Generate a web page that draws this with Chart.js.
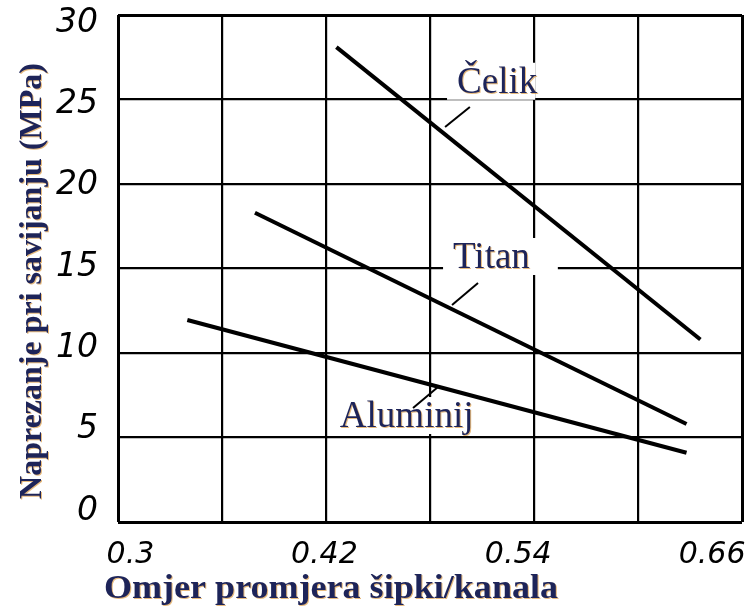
<!DOCTYPE html>
<html>
<head>
<meta charset="utf-8">
<script src="https://cdn.jsdelivr.net/npm/chart.js@4"></script>
<style>
    html, body { margin: 0; padding: 0; background: #fff; }
    #wrap { width: 754px; height: 607px; }
</style>
</head>
<body>
<div id="wrap"><canvas id="chart"></canvas></div>
<script>
// Podaci

const xGrid = [0.3, 0.36, 0.42, 0.48, 0.54, 0.6, 0.66];
const xTickValues = [0.3, 0.42, 0.54, 0.66];
const xTickLabels = ['0.3', '0.42', '0.54', '0.66'];
const yTickValues = [0, 5, 10, 15, 20, 25, 30];

const seriesNames = ['Čelik', 'Titan', 'Aluminij'];
const celikX = [0.426, 0.636];
const celikY = [28.1, 10.8];
const titanX = [0.379, 0.628];
const titanY = [18.3, 5.8];
const aluminijX = [0.340, 0.628];
const aluminijY = [11.95, 4.1];

const xTitle = 'Omjer promjera šipki/kanala';
const yTitle = 'Naprezanje pri savijanju (MPa)';

const toPoints = (xs, ys) => xs.map((x, i) => ({ x: x, y: ys[i] }));

// Oznake krivulja

const notes = [
    { text: seriesNames[0], x: 0.4956, y: 25.4, from: [0.503, 24.56], to: [0.4887, 23.37], pad: 0 },
    { text: seriesNames[1], x: 0.4933, y: 15.03, from: [0.5077, 14.14], to: [0.4927, 12.84], pad: 30 },
    { text: seriesNames[2], x: 0.428, y: 5.62, from: [0.4702, 6.75], to: [0.4846, 7.99], pad: 0 },
];

const noteFont = '37px "Liberation Serif"';
const titleColor = '#1d2459';
const fringe = 'rgba(214, 140, 40, 0.6)';

const notesPlugin = {
    id: 'notes',
    beforeDatasetsDraw(chart) {
        const { ctx, scales: { x, y } } = chart;
        ctx.save();
        ctx.font = noteFont;
        ctx.fillStyle = '#fff';
        notes.forEach(n => {
            const px = x.getPixelForValue(n.x);
            const py = y.getPixelForValue(n.y);
            const w = ctx.measureText(n.text).width;
            ctx.fillRect(px - 10, py - 30, w + 8 + n.pad, 37);
        });
        ctx.restore();
    },
    afterDatasetsDraw(chart) {
        const { ctx, scales: { x, y } } = chart;
        ctx.save();
        ctx.strokeStyle = '#000';
        ctx.lineWidth = 2;
        notes.forEach(n => {
            ctx.beginPath();
            ctx.moveTo(x.getPixelForValue(n.from[0]), y.getPixelForValue(n.from[1]));
            ctx.lineTo(x.getPixelForValue(n.to[0]), y.getPixelForValue(n.to[1]));
            ctx.stroke();
        });
        ctx.font = noteFont;
        ctx.textBaseline = 'alphabetic';
        ctx.shadowColor = fringe;
        ctx.shadowOffsetX = 1;
        ctx.shadowOffsetY = 1;
        ctx.fillStyle = titleColor;
        notes.forEach(n => {
            ctx.fillText(n.text, x.getPixelForValue(n.x), y.getPixelForValue(n.y));
        });
        ctx.restore();
    },
    afterDraw(chart) {
        const { ctx } = chart;
        ctx.save();
        ctx.shadowColor = fringe;
        ctx.shadowOffsetX = 1;
        ctx.shadowOffsetY = 1;
        ctx.fillStyle = titleColor;
        ctx.textBaseline = 'alphabetic';

        // naslov x osi, rastegnut na sirinu iz originala
        ctx.font = 'bold 33px "Liberation Serif"';
        ctx.textAlign = 'left';
        const w = ctx.measureText(xTitle).width;
        ctx.save();
        ctx.translate(104, 598);
        ctx.scale(454 / w, 1);
        ctx.fillText(xTitle, 0, 0);
        ctx.restore();

        ctx.translate(41, 281);
        ctx.rotate(-Math.PI / 2);
        ctx.font = 'bold 32px "Liberation Serif"';
        ctx.textAlign = 'center';
        ctx.fillText(yTitle, 0, 0);
        ctx.restore();
    }
};

const gridWidth = (n) => (ctx) => (ctx.index === 0 || ctx.index === n - 1) ? 3 : 2.2;

const lineStyle = { borderColor: '#000', borderWidth: 4, pointRadius: 0, tension: 0, fill: false };

new Chart(document.getElementById('chart'), {
    type: 'line',
    data: {
        datasets: [
            { label: seriesNames[0], data: toPoints(celikX, celikY), ...lineStyle },
            { label: seriesNames[1], data: toPoints(titanX, titanY), ...lineStyle },
            { label: seriesNames[2], data: toPoints(aluminijX, aluminijY), ...lineStyle },
        ]
    },
    options: {
        responsive: true,
        maintainAspectRatio: false,
        animation: false,
        layout: { padding: { top: 15, right: 12, left: 0, bottom: 0 } },
        plugins: {
            legend: { display: false },
            tooltip: { enabled: false },
        },
        scales: {
            x: {
                type: 'linear',
                position: 'bottom',
                weight: 0,
                min: 0.3,
                max: 0.66,
                afterBuildTicks: s => { s.ticks = xGrid.map(v => ({ value: v })); },
                afterFit: s => { s.height = 0; s.paddingLeft = 0; s.paddingRight = 0; },
                ticks: { display: false },
                grid: { color: '#000', lineWidth: gridWidth(xGrid.length), drawTicks: false },
                border: { display: false },
            },
            xLab: {
                type: 'linear',
                position: 'bottom',
                weight: 1,
                min: 0.2923,
                max: 0.6785,
                afterBuildTicks: s => { s.ticks = xTickValues.map(v => ({ value: v })); },
                afterFit: s => { s.height = 85; s.paddingLeft = 0; s.paddingRight = 0; },
                ticks: {
                    padding: 7,
                    color: '#000',
                    font: { family: '"DejaVu Sans"', size: 30, style: 'italic' },
                    autoSkip: false,
                    maxRotation: 0,
                    callback: (v, i) => xTickLabels[i],
                },
                grid: { display: false },
                border: { display: false },
            },
            y: {
                type: 'linear',
                position: 'left',
                weight: 0,
                min: 0,
                max: 30,
                afterBuildTicks: s => { s.ticks = yTickValues.map(v => ({ value: v })); },
                afterFit: s => { s.width = 0; s.paddingTop = 0; s.paddingBottom = 0; },
                ticks: { display: false },
                grid: { color: '#000', lineWidth: gridWidth(yTickValues.length), drawTicks: false },
                border: { display: false },
            },
            yLab: {
                type: 'linear',
                position: 'left',
                weight: 1,
                min: -0.676,
                max: 30.49,
                afterBuildTicks: s => { s.ticks = yTickValues.map(v => ({ value: v })); },
                afterFit: s => { s.width = 118; s.paddingTop = 0; s.paddingBottom = 0; },
                ticks: {
                    padding: 12,
                    color: '#000',
                    font: { family: '"DejaVu Sans"', size: 33, style: 'italic' },
                    autoSkip: false,
                    callback: (v) => String(v),
                },
                grid: { display: false },
                border: { display: false },
            },
        },
    },
    plugins: [notesPlugin],
});
</script>
</body>
</html>
